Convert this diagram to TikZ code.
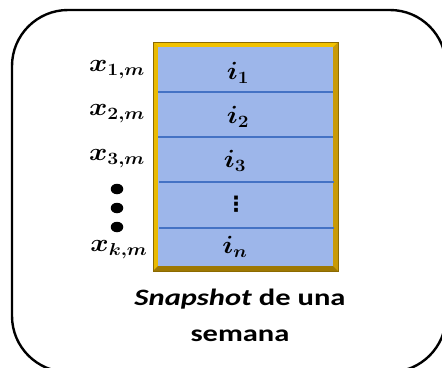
\documentclass[tikz,border=0pt]{standalone}
\usepackage{amsmath,bm}
\usepackage{fontspec}
\setmainfont{Carlito}
\newfontfamily\symfont{DejaVu Sans}
\definecolor{cellblue}{HTML}{9DB6EA}
\definecolor{lineblue}{HTML}{4472C4}
\definecolor{goldA}{HTML}{F2C200}
\definecolor{goldB}{HTML}{C99A06}
\definecolor{goldC}{HTML}{8C6A00}
\tikzset{
  lbl/.style={inner sep=0pt, font=\fontsize{25}{28}\selectfont, xscale=1.12, transform shape},
  cell/.style={inner sep=0pt, font=\fontsize{25}{28}\selectfont, xscale=1.1, transform shape},
  sep/.style={draw=lineblue, line width=1.6pt},
  dotmark/.style={ellipse, fill=black, inner sep=0pt, minimum width=12.5pt, minimum height=10.5pt},
  caption/.style={inner sep=0pt, font=\fontsize{23.5}{36}\selectfont\bfseries, align=center, xscale=1.3, transform shape}
}
\usetikzlibrary{shapes.geometric}
\begin{document}
\begin{tikzpicture}[x=1pt,y=-1pt]
\useasboundingbox (0,0) rectangle (442,367);
\begin{scope}
\clip (0,0) rectangle (442,367);
\draw[line width=2.4pt, rounded corners=56pt] (12,10) rectangle (446,372);
\end{scope}
% frame
\fill[goldB] (153,42) rectangle (338,271);
\fill[goldA] (153,42) -- (338,42) -- (333,47) -- (158,47) -- cycle;
\fill[goldA!80!goldB] (153,42) -- (158,47) -- (158,266) -- (153,271) -- cycle;
\fill[goldC!70!goldB] (153,271) -- (158,266) -- (333,266) -- (338,271) -- cycle;
\fill[cellblue] (158,47) rectangle (333,266);
\draw[goldC, line width=0.6pt] (153,42) rectangle (338,271);
\coordinate (l1) at (158,92);  \coordinate (r1) at (333,92);
\coordinate (l2) at (158,137); \coordinate (r2) at (333,137);
\coordinate (l3) at (159,182); \coordinate (r3) at (334,182);
\coordinate (l4) at (159,228); \coordinate (r4) at (334,228);
\draw[sep] (l1) -- (r1);
\draw[sep] (l2) -- (r2);
\draw[sep] (l3) -- (r3);
\draw[sep] (l4) -- (r4);
% cell labels
\node[cell] (i1) at (238,73) {$\bm{i_1}$};
\node[cell] (i2) at (238,117) {$\bm{i_2}$};
\node[cell] (i3) at (235,161) {$\bm{i_3}$};
\node[inner sep=0pt, font=\symfont\bfseries\fontsize{21}{22}\selectfont] (iv) at (236,204) {⋮};
\node[cell] (in) at (235,247) {$\bm{i_n}$};
% left labels
\node[lbl] (x1) at (117,70) {$\bm{x_{1,m}}$};
\node[lbl] (x2) at (117,114) {$\bm{x_{2,m}}$};
\node[lbl] (x3) at (117,159) {$\bm{x_{3,m}}$};
\node[dotmark] (d1) at (117,189) {};
\node[dotmark] (d2) at (117,208) {};
\node[dotmark] (d3) at (117,227) {};
\node[lbl] (xk) at (119,250) {$\bm{x_{k,m}}$};
% caption
\node[caption] (cap) at (240,315) {\textit{Snapshot} de una\\semana};
\end{tikzpicture}
\end{document}
